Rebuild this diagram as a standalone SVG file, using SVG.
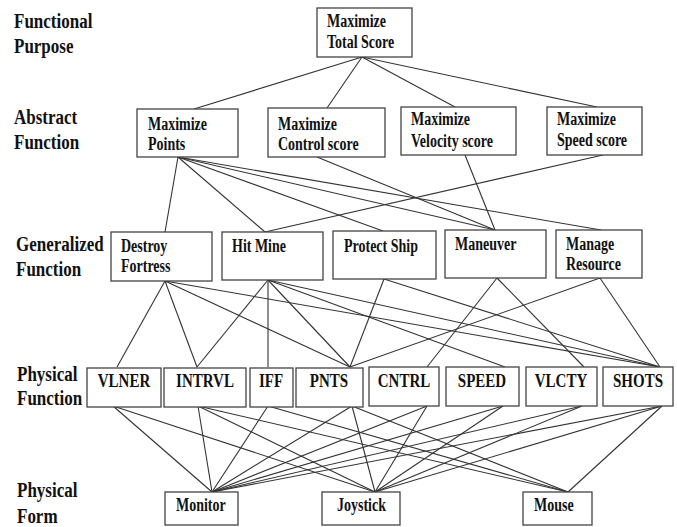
<svg xmlns="http://www.w3.org/2000/svg" width="677" height="527" viewBox="0 0 677 527">
<style>
rect{fill:#fff;stroke:#444;stroke-width:1.3}
#connectors line{stroke:#333;stroke-width:1.1}
text{font-family:"Liberation Serif","Times New Roman",serif;font-weight:bold;fill:#111}
.row{font-size:17px}
.n{font-size:14px}
.p{font-size:15px;text-anchor:middle}
</style>
<rect x="0" y="0" width="677" height="527" style="fill:#fff;stroke:none"/>
<g id="labels">
<text class="row" transform="matrix(1,0,0,1.2,14,28)">Functional</text>
<text class="row" transform="matrix(1,0,0,1.2,14,53)">Purpose</text>
<text class="row" transform="matrix(1,0,0,1.2,14,124)">Abstract</text>
<text class="row" transform="matrix(1,0,0,1.2,14,149)">Function</text>
<text class="row" transform="matrix(1,0,0,1.2,16,251)">Generalized</text>
<text class="row" transform="matrix(1,0,0,1.2,16,276)">Function</text>
<text class="row" transform="matrix(1,0,0,1.2,17,381)">Physical</text>
<text class="row" transform="matrix(1,0,0,1.2,17,405)">Function</text>
<text class="row" transform="matrix(1,0,0,1.2,17,497)">Physical</text>
<text class="row" transform="matrix(1,0,0,1.2,17,523)">Form</text>
</g>
<g id="connectors">
<line x1="362" y1="57" x2="194" y2="109"/>
<line x1="362" y1="57" x2="327" y2="108"/>
<line x1="362" y1="57" x2="455" y2="107"/>
<line x1="362" y1="57" x2="597" y2="107"/>
<line x1="178" y1="157" x2="165" y2="232"/>
<line x1="178" y1="157" x2="265" y2="232"/>
<line x1="178" y1="157" x2="383" y2="231"/>
<line x1="178" y1="157" x2="495" y2="230"/>
<line x1="178" y1="157" x2="601" y2="230"/>
<line x1="317" y1="157" x2="495" y2="230"/>
<line x1="465" y1="155" x2="495" y2="230"/>
<line x1="603" y1="155" x2="265" y2="232"/>
<line x1="165" y1="281" x2="117" y2="367"/>
<line x1="165" y1="281" x2="197" y2="367"/>
<line x1="165" y1="281" x2="350" y2="367"/>
<line x1="165" y1="281" x2="660" y2="367"/>
<line x1="268" y1="280" x2="197" y2="367"/>
<line x1="268" y1="280" x2="268" y2="367"/>
<line x1="268" y1="280" x2="350" y2="367"/>
<line x1="268" y1="280" x2="505" y2="367"/>
<line x1="268" y1="280" x2="660" y2="367"/>
<line x1="384" y1="279" x2="350" y2="367"/>
<line x1="384" y1="279" x2="660" y2="367"/>
<line x1="497" y1="278" x2="427" y2="367"/>
<line x1="497" y1="278" x2="584" y2="367"/>
<line x1="600" y1="278" x2="350" y2="367"/>
<line x1="600" y1="278" x2="660" y2="367"/>
<line x1="113" y1="406" x2="212" y2="492"/>
<line x1="113" y1="406" x2="375" y2="492"/>
<line x1="198" y1="406" x2="212" y2="492"/>
<line x1="198" y1="406" x2="375" y2="492"/>
<line x1="198" y1="406" x2="568" y2="492"/>
<line x1="268" y1="406" x2="212" y2="492"/>
<line x1="268" y1="406" x2="568" y2="492"/>
<line x1="352" y1="406" x2="212" y2="492"/>
<line x1="352" y1="406" x2="375" y2="492"/>
<line x1="352" y1="406" x2="568" y2="492"/>
<line x1="427" y1="406" x2="212" y2="492"/>
<line x1="427" y1="406" x2="375" y2="492"/>
<line x1="503" y1="406" x2="212" y2="492"/>
<line x1="503" y1="406" x2="375" y2="492"/>
<line x1="582" y1="406" x2="212" y2="492"/>
<line x1="582" y1="406" x2="375" y2="492"/>
<line x1="662" y1="406" x2="212" y2="492"/>
<line x1="662" y1="406" x2="375" y2="492"/>
<line x1="662" y1="406" x2="568" y2="492"/>
</g>
<g id="total"><rect x="317" y="8" width="95" height="49"/><text class="n" transform="matrix(1,0,0,1.3,327,27)">Maximize</text><text class="n" transform="matrix(1,0,0,1.3,327,48)">Total Score</text></g>
<g id="points"><rect x="137" y="109" width="101" height="48"/><text class="n" transform="matrix(1,0,0,1.3,148,130)">Maximize</text><text class="n" transform="matrix(1,0,0,1.3,148,150)">Points</text></g>
<g id="control"><rect x="268" y="108" width="117" height="49"/><text class="n" transform="matrix(1,0,0,1.3,278,130)">Maximize</text><text class="n" transform="matrix(1,0,0,1.3,278,150)">Control score</text></g>
<g id="velocity"><rect x="401" y="107" width="115" height="48"/><text class="n" transform="matrix(1,0,0,1.3,411,125)">Maximize</text><text class="n" transform="matrix(1,0,0,1.3,411,147)">Velocity score</text></g>
<g id="speedscore"><rect x="547" y="107" width="95" height="48"/><text class="n" transform="matrix(1,0,0,1.3,557,125)">Maximize</text><text class="n" transform="matrix(1,0,0,1.3,557,146)">Speed score</text></g>
<g id="destroy"><rect x="111" y="232" width="101" height="49"/><text class="n" transform="matrix(1,0,0,1.3,121,252)">Destroy</text><text class="n" transform="matrix(1,0,0,1.3,121,272)">Fortress</text></g>
<g id="hitmine"><rect x="222" y="232" width="101" height="48"/><text class="n" transform="matrix(1,0,0,1.3,232,252)">Hit Mine</text></g>
<g id="protect"><rect x="333" y="231" width="103" height="48"/><text class="n" transform="matrix(1,0,0,1.3,344,252)">Protect Ship</text></g>
<g id="maneuver"><rect x="445" y="230" width="101" height="48"/><text class="n" transform="matrix(1,0,0,1.3,455,250)">Maneuver</text></g>
<g id="manage"><rect x="556" y="230" width="86" height="48"/><text class="n" transform="matrix(1,0,0,1.3,566,250)">Manage</text><text class="n" transform="matrix(1,0,0,1.3,566,270)">Resource</text></g>
<g id="vlner"><rect x="87" y="368" width="74" height="39"/><text class="p" transform="matrix(1,0,0,1.25,124,387)">VLNER</text></g>
<g id="intrvl"><rect x="164" y="368" width="82" height="39"/><text class="p" transform="matrix(1,0,0,1.25,205,387)">INTRVL</text></g>
<g id="iff"><rect x="250" y="368" width="43" height="39"/><text class="p" transform="matrix(1,0,0,1.25,271,387)">IFF</text></g>
<g id="pnts"><rect x="296" y="368" width="67" height="39"/><text class="p" transform="matrix(1,0,0,1.25,329,387)">PNTS</text></g>
<g id="cntrl"><rect x="369" y="367" width="70" height="39"/><text class="p" transform="matrix(1,0,0,1.25,404,387)">CNTRL</text></g>
<g id="speed"><rect x="446" y="367" width="73" height="39"/><text class="p" transform="matrix(1,0,0,1.25,482,387)">SPEED</text></g>
<g id="vlcty"><rect x="526" y="367" width="71" height="39"/><text class="p" transform="matrix(1,0,0,1.25,561,387)">VLCTY</text></g>
<g id="shots"><rect x="603" y="367" width="70" height="39"/><text class="p" transform="matrix(1,0,0,1.25,638,387)">SHOTS</text></g>
<g id="monitor"><rect x="165" y="492" width="73" height="33"/><text class="n" transform="matrix(1,0,0,1.3,176,511)">Monitor</text></g>
<g id="joystick"><rect x="322" y="492" width="78" height="33"/><text class="n" transform="matrix(1,0,0,1.3,337,511)">Joystick</text></g>
<g id="mouse"><rect x="523" y="492" width="69" height="33"/><text class="n" transform="matrix(1,0,0,1.3,534,511)">Mouse</text></g>
</svg>
